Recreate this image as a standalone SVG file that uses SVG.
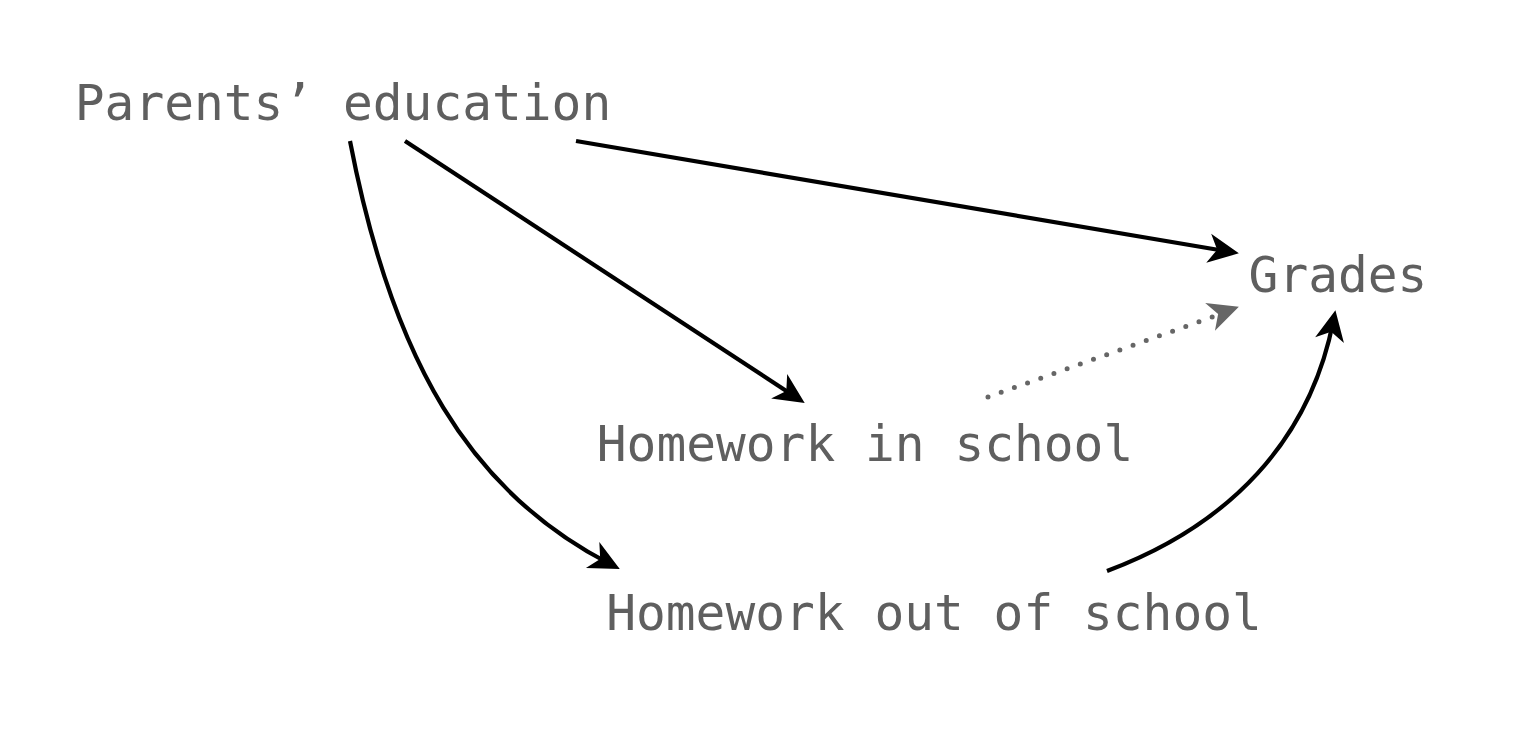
<svg xmlns="http://www.w3.org/2000/svg" width="1516" height="732" viewBox="0 0 1516 732">
<style>
.lbl{font-family:"DejaVu Sans Mono","Liberation Mono",monospace;font-size:49.5px;fill:#5f5f5f;text-anchor:middle}
.edge{fill:none;stroke:#000;stroke-width:4.2}
.dot{fill:none;stroke:#666;stroke-width:5;stroke-linecap:round;stroke-dasharray:0 14}
</style>
<defs>
<marker id="ah" markerUnits="userSpaceOnUse" markerWidth="44" markerHeight="40" viewBox="-24 -15 36 30" refX="0" refY="0" orient="auto">
<path d="M9,0 L-16,-12 L-9,0 L-16,12 Z" fill="#000"/>
</marker>
<marker id="ahg" markerUnits="userSpaceOnUse" markerWidth="44" markerHeight="40" viewBox="-24 -15 36 30" refX="0" refY="0" orient="auto">
<path d="M9,0 L-16,-12 L-9,0 L-16,12 Z" fill="#666"/>
</marker>
</defs>
<rect width="1516" height="732" fill="#fff"/>
<g id="connectors">
<path class="edge" d="M576,141 L1228,251.5" marker-end="url(#ah)"/>
<path class="edge" d="M405,141 L795.5,397" marker-end="url(#ah)"/>
<path class="edge" d="M350,141 C392,360 470,492 610,564" marker-end="url(#ah)"/>
<path class="edge" d="M1107,571 C1230,525 1310,440 1333.3,321" marker-end="url(#ah)"/>
<path class="dot" d="M988,397 L1215,316"/>
<path d="M1220,313.4 L1228.5,310.4" stroke="none" fill="none" marker-end="url(#ahg)"/>
</g>
<g id="node-parents"><text class="lbl" x="343" y="120">Parents’ education</text></g>
<g id="node-grades"><text class="lbl" x="1338" y="292">Grades</text></g>
<g id="node-hw-in"><text class="lbl" x="865" y="461">Homework in school</text></g>
<g id="node-hw-out"><text class="lbl" x="934" y="630">Homework out of school</text></g>
</svg>
